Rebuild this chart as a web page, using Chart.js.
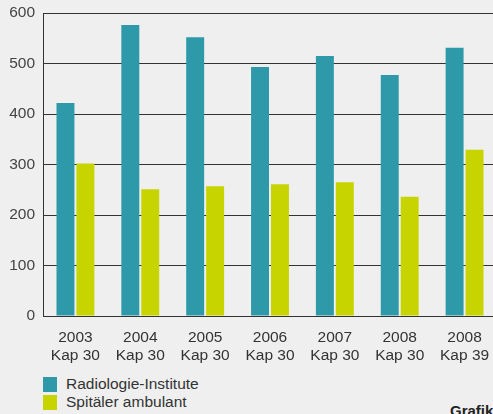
<!DOCTYPE html>
<html>
<head>
<meta charset="utf-8">
<script src="https://cdn.jsdelivr.net/npm/chart.js@4/dist/chart.umd.min.js"></script>
<style>
  html, body { margin:0; padding:0; background:#eeefee; width:493px; height:414px; overflow:hidden; }
  #wrap { position:absolute; left:0; top:0; width:497px; height:370px; }
  .leg { position:absolute; left:43px; font-family:"Liberation Sans", Arial, sans-serif; font-size:15.5px; color:#333; }
  .leg span.sw { position:absolute; left:0; width:14px; height:15px; }
  .leg span.tx { position:absolute; left:23px; white-space:nowrap; }
  #grafik { position:absolute; left:450px; top:402px; font-family:"Liberation Sans", Arial, sans-serif; font-weight:bold; font-size:15px; color:#222; white-space:nowrap; }
</style>
</head>
<body>
<div id="wrap"><canvas id="c" width="497" height="370"></canvas></div>
<div class="leg" style="top:377px;"><span class="sw" style="background:#2e9aa9"></span><span class="tx" style="top:-2px">Radiologie-Institute</span></div>
<div class="leg" style="top:395px;"><span class="sw" style="background:#c8d400"></span><span class="tx" style="top:-2px">Spitäler ambulant</span></div>
<div id="grafik">Grafik</div>
<script>
const categories = [["2003","Kap 30"],["2004","Kap 30"],["2005","Kap 30"],["2006","Kap 30"],["2007","Kap 30"],["2008","Kap 30"],["2008","Kap 39"]];
const radiologie = [422, 576, 552, 493, 515, 477, 531];
const spitaeler = [302, 251, 257, 261, 265, 236, 329];
const seriesNames = ["Radiologie-Institute", "Spitäler ambulant"];
const yTicks = [0, 100, 200, 300, 400, 500, 600];

const font = { family: "'Liberation Sans', Arial, sans-serif", size: 15.5 };

new Chart(document.getElementById('c'), {
  type: 'bar',
  data: {
    labels: categories,
    datasets: [
      { label: seriesNames[0], data: radiologie, backgroundColor: '#2e9aa9', categoryPercentage: 0.615, barPercentage: 0.9 },
      { label: seriesNames[1], data: spitaeler, backgroundColor: '#c8d400', categoryPercentage: 0.615, barPercentage: 0.9 }
    ]
  },
  options: {
    responsive: false,
    animation: false,
    layout: { padding: { top: 13, left: 0, right: 0, bottom: 0 } },
    plugins: { legend: { display: false }, tooltip: { enabled: false } },
    scales: {
      x: {
        offset: true,
        grid: { display: false, drawTicks: false },
        border: { display: true, color: '#333', width: 1 },
        ticks: { color: '#333', font: font, padding: 12, maxRotation: 0, autoSkip: false },
        afterFit: s => { s.height = 54; s.paddingLeft = 0; s.paddingRight = 0; }
      },
      y: {
        min: 0, max: 600,
        afterBuildTicks: s => { s.ticks = yTicks.map(v => ({ value: v })); },
        grid: { color: '#333', lineWidth: 1, drawTicks: false },
        border: { display: true, color: '#333', width: 1 },
        ticks: { color: '#444', font: font, padding: 8 },
        afterFit: s => { s.width = 43; s.paddingTop = 0; s.paddingBottom = 0; }
      }
    }
  }
});
</script>
</body>
</html>
